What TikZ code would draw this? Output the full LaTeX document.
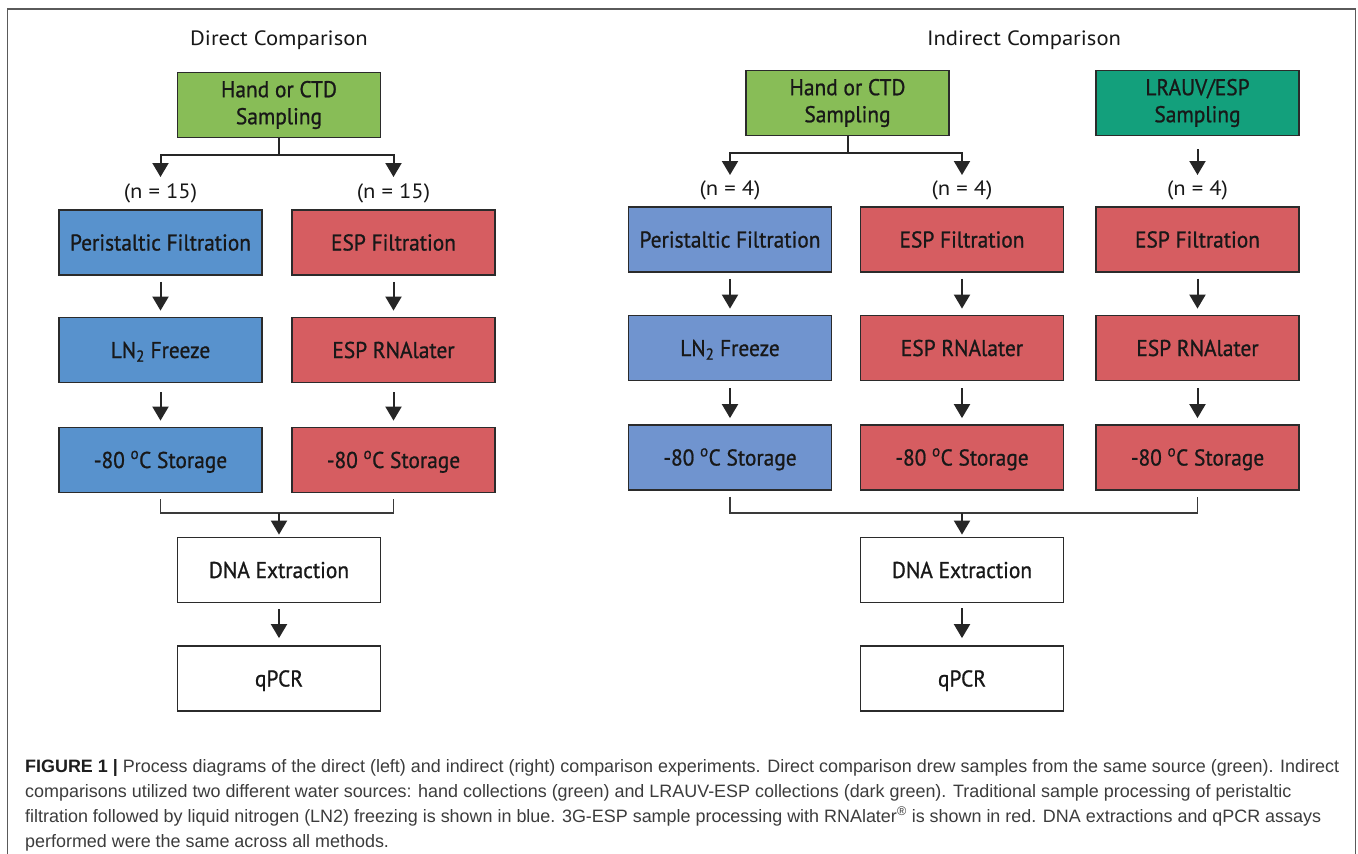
\documentclass[tikz,border=0pt]{standalone}
\usepackage{fontspec}
\usepackage{graphicx}
\setmainfont{PT Sans}
\newfontfamily\boxfont{PT Sans}[FakeBold=0.9]
\newfontfamily\capfont{Liberation Sans}
\usetikzlibrary{arrows.meta}

\definecolor{gA}{HTML}{88BD57}
\definecolor{gB}{HTML}{13A07C}
\definecolor{bA}{HTML}{5892CD}
\definecolor{bB}{HTML}{7094CF}
\definecolor{rA}{HTML}{D65D61}
\definecolor{ink}{HTML}{181818}
\definecolor{edge}{HTML}{2B2B2B}
\definecolor{arrc}{HTML}{262626}
\definecolor{linec}{HTML}{3A3A3A}
\definecolor{frm}{HTML}{5A5A5A}
\definecolor{capbold}{HTML}{1E1E1E}
\definecolor{captxt}{HTML}{3C3C3C}

\newsavebox\measbox
\AtBeginDocument{%
  \pgfmathsetmacro\bsz{16/0.7}%
  \pgfmathsetmacro\capht{0.7*\bsz}%
  \sbox\measbox{\boxfont\fontsize{\bsz pt}{12pt}\selectfont Peristaltic Filtration}%
  \pgfmathsetmacro\bsx{181/\the\wd\measbox}%
  \pgfmathsetmacro\tsz{14.5/0.7}%
  \sbox\measbox{\normalfont\fontsize{\tsz pt}{12pt}\selectfont Indirect Comparison}%
  \pgfmathsetmacro\tsx{194/\the\wd\measbox}%
  \sbox\measbox{\capfont\fontsize{10pt}{12pt}\selectfont\textbf{FIGURE 1 |} Process diagrams of the direct (left) and indirect (right) comparison experiments. Direct comparison drew samples from the same source (green). Indirect}%
  \pgfmathsetmacro\csz{10*1314/\the\wd\measbox}%
}
\newcommand\hb[1]{\scalebox{\bsx}[1]{#1}}
\newcommand\htl[1]{\scalebox{\tsx}[1]{#1}}

\tikzset{
  pbox/.style={draw=edge, line width=1.8pt, minimum width=203pt, minimum height=65pt,
    inner sep=0pt, text=ink, align=center,
    font=\boxfont\fontsize{\bsz pt}{27pt}\selectfont},
  oneline/.style={text height=\capht pt, text depth=0pt},
  ttl/.style={anchor=base, inner sep=0pt, text=ink, font=\fontsize{\tsz pt}{\tsz pt}\selectfont},
  nlab/.style={inner sep=0pt, text=ink, font=\fontsize{\tsz pt}{\tsz pt}\selectfont},
  arr/.style={draw=arrc, line width=2pt, -{Triangle[width=16pt,length=14pt]}},
  conn/.style={draw=linec, line width=1.6pt},
  frameline/.style={draw=frm, line width=1.5pt},
  captext/.style={anchor=base west, inner sep=0pt, text=captxt,
    font=\capfont\fontsize{\csz pt}{\csz pt}\selectfont},
}

\begin{document}
\begin{tikzpicture}[x=1pt,y=-1pt]
\useasboundingbox (0,0) rectangle (1358,854);
\fill[white] (0,0) rectangle (1358,854);

% frame (open at the bottom)
\coordinate (f1) at (7.5,854);
\coordinate (f2) at (7.5,9);
\coordinate (f3) at (1355.5,9);
\coordinate (f4) at (1355.5,854);
\draw[frameline] (f1) -- (f2) -- (f3) -- (f4);

% ---------------- Direct comparison ----------------
\node[ttl] (tL) at (279,45) {\htl{Direct Comparison}};
\node[pbox, fill=gA] (lg) at (279,105) {\hb{Hand or CTD}\\\hb{Sampling}};

\coordinate (lsa) at (160.5,155);
\coordinate (lsb) at (393.5,155);
\coordinate (lta) at (160.5,177);
\coordinate (ltb) at (393.5,177);
\draw[arr] (lg.south) |- (lsa) -- (lta);
\draw[arr] (lg.south) |- (lsb) -- (ltb);

\node[nlab] (lna) at (160.5,193) {\htl{(n = 15)}};
\node[nlab] (lnb) at (393.5,193) {\htl{(n = 15)}};

\node[pbox, oneline, fill=bA] (lp1) at (160.5,242.5) {\hb{Peristaltic Filtration}};
\node[pbox, oneline, fill=rA] (le1) at (393.5,242.5) {\hb{ESP Filtration}};
\node[pbox, oneline, fill=bA] (lp2) at (160.5,350) {\hb{LN\textsubscript{2} Freeze}};
\node[pbox, oneline, fill=rA] (le2) at (393.5,350) {\hb{ESP RNAlater}};
\node[pbox, oneline, fill=bA] (lp3) at (160.5,460) {\hb{-80 \textsuperscript{o}C Storage}};
\node[pbox, oneline, fill=rA] (le3) at (393.5,460) {\hb{-80 \textsuperscript{o}C Storage}};

\draw[arr, shorten <=6pt, shorten >=6pt] (lp1) -- (lp2);
\draw[arr, shorten <=6pt, shorten >=6pt] (le1) -- (le2);
\draw[arr, shorten <=9pt, shorten >=6pt] (lp2) -- (lp3);
\draw[arr, shorten <=9pt, shorten >=6pt] (le2) -- (le3);

\coordinate (lma) at (160.5,513);
\coordinate (lmb) at (393.5,513);
\coordinate (lmc) at (279,513);
\draw[conn, shorten <=6pt, shorten >=6pt] (lp3.south) -- (lma) -- (lmb) -- (le3.south);

\node[pbox, oneline, fill=white] (ld) at (279,570) {\hb{DNA Extraction}};
\node[pbox, oneline, fill=white] (lq) at (279,678.5) {\hb{qPCR}};
\draw[arr, shorten >=2pt] (lmc) -- (ld.north);
\draw[arr, shorten <=6pt, shorten >=7pt] (ld) -- (lq);

% ---------------- Indirect comparison ----------------
\node[ttl] (tR) at (1024,45) {\htl{Indirect Comparison}};
\node[pbox, fill=gA] (rg) at (847.5,103) {\hb{Hand or CTD}\\\hb{Sampling}};
\node[pbox, fill=gB] (rl) at (1197.5,103) {\hb{LRAUV/ESP}\\\hb{Sampling}};

\coordinate (rsa) at (730,153);
\coordinate (rsb) at (962,153);
\coordinate (rta) at (730,175);
\coordinate (rtb) at (962,175);
\coordinate (rtc) at (1197.5,175);
\draw[arr] (rg.south) |- (rsa) -- (rta);
\draw[arr] (rg.south) |- (rsb) -- (rtb);
\draw[arr, shorten <=13pt] (rl.south) -- (rtc);

\node[nlab] (rna) at (730,190) {\htl{(n = 4)}};
\node[nlab] (rnb) at (962,190) {\htl{(n = 4)}};
\node[nlab] (rnc) at (1197.5,190) {\htl{(n = 4)}};

\node[pbox, oneline, fill=bB] (rp1) at (730,239.5) {\hb{Peristaltic Filtration}};
\node[pbox, oneline, fill=rA] (re1) at (962,239.5) {\hb{ESP Filtration}};
\node[pbox, oneline, fill=rA] (rf1) at (1197.5,239.5) {\hb{ESP Filtration}};
\node[pbox, oneline, fill=bB] (rp2) at (730,348) {\hb{LN\textsubscript{2} Freeze}};
\node[pbox, oneline, fill=rA] (re2) at (962,348) {\hb{ESP RNAlater}};
\node[pbox, oneline, fill=rA] (rf2) at (1197.5,348) {\hb{ESP RNAlater}};
\node[pbox, oneline, fill=bB] (rp3) at (730,457.5) {\hb{-80 \textsuperscript{o}C Storage}};
\node[pbox, oneline, fill=rA] (re3) at (962,457.5) {\hb{-80 \textsuperscript{o}C Storage}};
\node[pbox, oneline, fill=rA] (rf3) at (1197.5,457.5) {\hb{-80 \textsuperscript{o}C Storage}};

\draw[arr, shorten <=6pt, shorten >=6pt] (rp1) -- (rp2);
\draw[arr, shorten <=6pt, shorten >=6pt] (re1) -- (re2);
\draw[arr, shorten <=6pt, shorten >=6pt] (rf1) -- (rf2);
\draw[arr, shorten <=7pt, shorten >=6pt] (rp2) -- (rp3);
\draw[arr, shorten <=7pt, shorten >=6pt] (re2) -- (re3);
\draw[arr, shorten <=7pt, shorten >=6pt] (rf2) -- (rf3);

\coordinate (rma) at (730,513);
\coordinate (rmb) at (1197.5,513);
\coordinate (rmc) at (962,513);
\draw[conn, shorten <=6pt, shorten >=6pt] (rp3.south) -- (rma) -- (rmb) -- (rf3.south);

\node[pbox, oneline, fill=white] (rd) at (962,570) {\hb{DNA Extraction}};
\node[pbox, oneline, fill=white] (rq) at (962,678.5) {\hb{qPCR}};
\draw[arr, shorten >=2pt] (rmc) -- (rd.north);
\draw[arr, shorten <=5pt, shorten >=7pt] (rd) -- (rq);

% ---------------- caption ----------------
\node[captext] (c1) at (25,772) {\textcolor{capbold}{\textbf{FIGURE 1 |}} Process diagrams of the direct (left) and indirect (right) comparison experiments. Direct comparison drew samples from the same source (green). Indirect};
\node[captext] (c2) at (25,797) {comparisons utilized two different water sources: hand collections (green) and LRAUV-ESP collections (dark green). Traditional sample processing of peristaltic};
\node[captext] (c3) at (25,822) {filtration followed by liquid nitrogen (LN2) freezing is shown in blue. 3G-ESP sample processing with RNAlater\textsuperscript{®} is shown in red. DNA extractions and qPCR assays};
\node[captext] (c4) at (25,847) {performed were the same across all methods.};
\end{tikzpicture}
\end{document}
